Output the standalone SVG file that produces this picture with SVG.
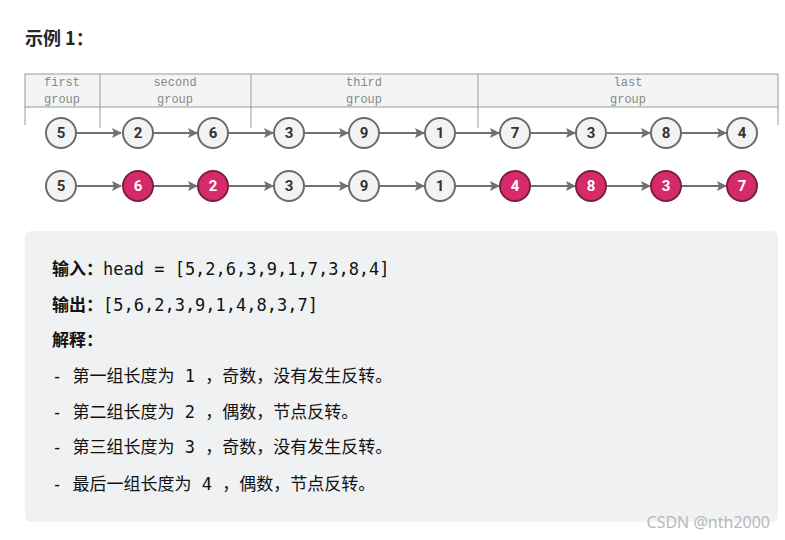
<svg xmlns="http://www.w3.org/2000/svg" width="785" height="540" viewBox="0 0 785 540">
<defs>
<style>
.hd{font-family:"Liberation Mono","Courier New",monospace;font-size:12px;fill:#888;text-anchor:middle}
.ln{stroke:#999;stroke-width:1;fill:none}
.n circle{stroke:#6b6b6b;stroke-width:2}
.w circle{fill:#f3f3f3}
.r circle{fill:#d52b6a;stroke:#7a2040}
.n text{font-family:Roboto,"Liberation Sans",sans-serif;font-weight:bold;font-size:15px;text-anchor:middle}
.w text{fill:#333}
.r text{fill:#fff}
.c{stroke:#707070;stroke-width:2;fill:none;marker-end:url(#a)}
.t{font-family:"DejaVu Sans Mono","Noto Sans CJK SC",monospace;font-size:17px;fill:#111}
.b{font-family:"Noto Sans CJK SC",sans-serif;font-weight:bold}
</style>
<marker id="a" markerWidth="10" markerHeight="10" refX="9" refY="5" orient="auto" markerUnits="userSpaceOnUse"><path d="M0,0 L10,5 L0,10 L2,5 z" fill="#707070"/></marker>
</defs>
<rect width="785" height="540" fill="#fff"/>
<text x="25" y="45" font-family="Noto Sans CJK SC,sans-serif" font-weight="bold" font-size="18" fill="#262626">示例 1：</text>
<g id="header">
<rect x="25" y="74" width="753" height="33" fill="#f4f4f4" stroke="#999"/>
<path class="ln" d="M25,107V125M100,74V128M251,74V128M478,74V128M778,107V125"/>
<text class="hd" x="62" y="86">first</text><text class="hd" x="62" y="103">group</text>
<text class="hd" x="175" y="86">second</text><text class="hd" x="175" y="103">group</text>
<text class="hd" x="364" y="86">third</text><text class="hd" x="364" y="103">group</text>
<text class="hd" x="628" y="86">last</text><text class="hd" x="628" y="103">group</text>
</g>
<g id="connectors">
<path class="c" d="M77,133H121"/><path class="c" d="M153,133H197"/><path class="c" d="M229,133H273"/><path class="c" d="M305,133H348"/><path class="c" d="M380,133H424"/><path class="c" d="M456,133H499"/><path class="c" d="M531,133H575"/><path class="c" d="M607,133H650"/><path class="c" d="M682,133H726"/>
<path class="c" d="M77,186H121"/><path class="c" d="M153,186H197"/><path class="c" d="M229,186H273"/><path class="c" d="M305,186H348"/><path class="c" d="M380,186H424"/><path class="c" d="M456,186H499"/><path class="c" d="M531,186H575"/><path class="c" d="M607,186H650"/><path class="c" d="M682,186H726"/>
</g>
<g id="row1">
<g id="a1" class="n w"><circle cx="61" cy="133" r="15"/><text x="61" y="138">5</text></g>
<g id="a2" class="n w"><circle cx="138" cy="133" r="15"/><text x="138" y="138">2</text></g>
<g id="a3" class="n w"><circle cx="213" cy="133" r="15"/><text x="213" y="138">6</text></g>
<g id="a4" class="n w"><circle cx="289" cy="133" r="15"/><text x="289" y="138">3</text></g>
<g id="a5" class="n w"><circle cx="364" cy="133" r="15"/><text x="364" y="138">9</text></g>
<g id="a6" class="n w"><circle cx="440" cy="133" r="15"/><text x="440" y="138">1</text></g>
<g id="a7" class="n w"><circle cx="515" cy="133" r="15"/><text x="515" y="138">7</text></g>
<g id="a8" class="n w"><circle cx="591" cy="133" r="15"/><text x="591" y="138">3</text></g>
<g id="a9" class="n w"><circle cx="666" cy="133" r="15"/><text x="666" y="138">8</text></g>
<g id="a10" class="n w"><circle cx="742" cy="133" r="15"/><text x="742" y="138">4</text></g>
</g>
<g id="row2">
<g id="b1" class="n w"><circle cx="61" cy="186" r="15"/><text x="61" y="191">5</text></g>
<g id="b2" class="n r"><circle cx="138" cy="186" r="15"/><text x="138" y="191">6</text></g>
<g id="b3" class="n r"><circle cx="213" cy="186" r="15"/><text x="213" y="191">2</text></g>
<g id="b4" class="n w"><circle cx="289" cy="186" r="15"/><text x="289" y="191">3</text></g>
<g id="b5" class="n w"><circle cx="364" cy="186" r="15"/><text x="364" y="191">9</text></g>
<g id="b6" class="n w"><circle cx="440" cy="186" r="15"/><text x="440" y="191">1</text></g>
<g id="b7" class="n r"><circle cx="515" cy="186" r="15"/><text x="515" y="191">4</text></g>
<g id="b8" class="n r"><circle cx="591" cy="186" r="15"/><text x="591" y="191">8</text></g>
<g id="b9" class="n r"><circle cx="666" cy="186" r="15"/><text x="666" y="191">3</text></g>
<g id="b10" class="n r"><circle cx="742" cy="186" r="15"/><text x="742" y="191">7</text></g>
</g>
<g id="explain">
<rect x="25" y="231" width="753" height="291" rx="6" fill="#f0f1f3"/>
<text class="t" x="52" y="275"><tspan class="b">输入：</tspan>head = [5,2,6,3,9,1,7,3,8,4]</text>
<text class="t" x="52" y="311"><tspan class="b">输出：</tspan>[5,6,2,3,9,1,4,8,3,7]</text>
<text class="t b" x="52" y="346">解释：</text>
<text class="t" x="52" y="382">- 第一组长度为 1 ，奇数，没有发生反转。</text>
<text class="t" x="52" y="418">- 第二组长度为 2 ，偶数，节点反转。</text>
<text class="t" x="52" y="453">- 第三组长度为 3 ，奇数，没有发生反转。</text>
<text class="t" x="52" y="490">- 最后一组长度为 4 ，偶数，节点反转。</text>
</g>
<text x="770" y="528" text-anchor="end" font-family="Noto Sans,sans-serif" font-size="16" fill="#b8b8b8">CSDN @nth2000</text>
</svg>
